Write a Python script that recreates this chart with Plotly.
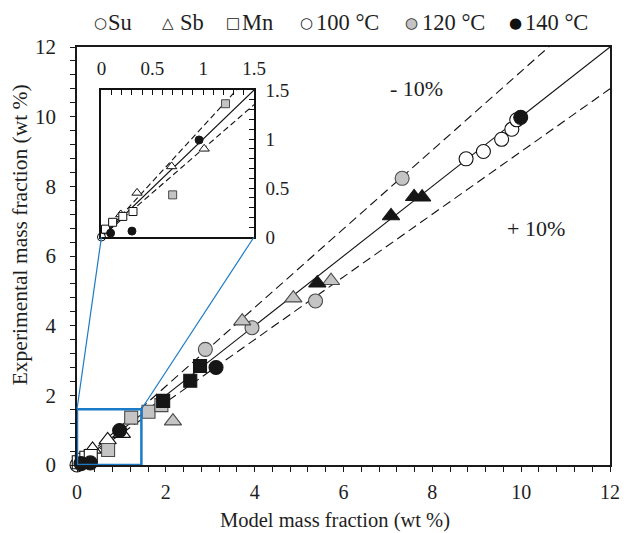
import plotly.graph_objects as go

# ---------------- data (model x, experimental y), wt % ----------------
su_100_x = [0.00, 8.76, 9.15, 9.56, 9.79, 9.90]
su_100_y = [0.00, 8.79, 9.00, 9.35, 9.64, 9.91]
su_120_x = [2.89, 3.94, 5.37, 7.32]
su_120_y = [3.32, 3.94, 4.71, 8.23]
su_140_x = [0.09, 0.30, 0.96, 3.13, 9.99]
su_140_y = [0.04, 0.06, 0.99, 2.80, 9.98]

sb_100_x = [0.19, 0.35, 0.69, 1.01]
sb_100_y = [0.23, 0.45, 0.72, 0.90]
sb_120_x = [2.16, 3.72, 4.87, 5.72]
sb_120_y = [1.26, 4.13, 4.79, 5.29]
sb_140_x = [5.41, 7.07, 7.59, 7.77]
sb_140_y = [5.22, 7.15, 7.70, 7.69]

mn_100_x = [0.04, 0.11, 0.21, 0.31]
mn_100_y = [0.08, 0.15, 0.21, 0.26]
mn_120_x = [0.70, 1.22, 1.61, 1.90]
mn_120_y = [0.43, 1.36, 1.53, 1.72]
mn_140_x = [1.94, 2.55, 2.77]
mn_140_y = [1.84, 2.42, 2.84]

parity_ratio = 1.0
upper_ratio = 1.13   # "- 10%" line
lower_ratio = 0.90   # "+ 10%" line

main_range = [0, 12]
inset_range = [0, 1.5]
main_ticks = [0, 2, 4, 6, 8, 10, 12]
inset_ticks = [0, 0.5, 1, 1.5]
zoom_box = [1.45, 1.6]   # blue box in main chart (x1, y1)

legend_elements = ["Su", "Sb", "Mn"]
legend_temps = ["100 °C", "120 °C", "140 °C"]

# ---------------- layout geometry ----------------
W, H = 634, 533
ML, MR, MT, MB = 77, 12, 47, 68
PW, PH = W - ML - MR, H - MT - MB

def px(xp):
    return (xp - ML) / PW

def py(yp):
    return (H - MB - yp) / PH

inset_dx = [px(102), px(258)]
inset_dy = [py(237), py(90)]

FONT = "Liberation Serif"
TXT = "#1e1e1e"
WHITE, GRAY, BLACK = "#ffffff", "#c4c4c4", "#161616"
EDGE = {WHITE: "#111111", GRAY: "#4a4a4a", BLACK: "#161616"}

series = [
    ("circle", WHITE, su_100_x, su_100_y),
    ("triangle-up", WHITE, sb_100_x, sb_100_y),
    ("square", WHITE, mn_100_x, mn_100_y),
    ("circle", GRAY, su_120_x, su_120_y),
    ("triangle-up", GRAY, sb_120_x, sb_120_y),
    ("square", GRAY, mn_120_x, mn_120_y),
    ("circle", BLACK, su_140_x, su_140_y),
    ("triangle-up", BLACK, sb_140_x, sb_140_y),
    ("square", BLACK, mn_140_x, mn_140_y),
]
main_size = {"circle": 14, "triangle-up": 15, "square": 13}
inset_size = {"circle": 8, "triangle-up": 9, "square": 8}

fig = go.Figure()

# guide lines
for rng, xa, ya, dash_main in [(main_range, "x", "y", "9px,5px"), (inset_range, "x2", "y2", "6px,3.5px")]:
    gx = [rng[0], rng[1]]
    for r, dash in [(parity_ratio, "solid"), (upper_ratio, dash_main), (lower_ratio, dash_main)]:
        fig.add_trace(go.Scatter(
            x=gx, y=[v * r for v in gx], mode="lines", xaxis=xa, yaxis=ya,
            line=dict(color="#111111", width=1.1, dash=dash),
            showlegend=False, hoverinfo="skip"))

# markers
for sym, fill, xs, ys in series:
    fig.add_trace(go.Scatter(
        x=xs, y=ys, mode="markers", xaxis="x", yaxis="y", cliponaxis=False,
        marker=dict(symbol=sym, size=main_size[sym], color=fill,
                    line=dict(color=EDGE[fill], width=1.1)),
        showlegend=False))
for sym, fill, xs, ys in series:
    xi = [a for a, b in zip(xs, ys) if a <= inset_range[1] and b <= inset_range[1]]
    yi = [b for a, b in zip(xs, ys) if a <= inset_range[1] and b <= inset_range[1]]
    fig.add_trace(go.Scatter(
        x=xi, y=yi, mode="markers", xaxis="x2", yaxis="y2", cliponaxis=False,
        marker=dict(symbol=sym, size=inset_size[sym], color=fill,
                    line=dict(color=EDGE[fill], width=1)),
        showlegend=False))

axis_common = dict(showgrid=False, zeroline=False, showline=True, linecolor="#1a1a1a",
                   linewidth=1.5, mirror=True,
                   ticks="outside", ticklen=5, tickcolor="#1a1a1a", tickwidth=1.2)

fig.update_layout(
    width=W, height=H, margin=dict(l=ML, r=MR, t=MT, b=MB),
    paper_bgcolor="white", plot_bgcolor="white",
    xaxis=dict(range=main_range, tickvals=main_ticks, ticklabelstandoff=3,
               tickfont=dict(family=FONT, size=20, color=TXT),
               minor=dict(dtick=0.4, ticks="outside", ticklen=5, tickcolor="#1a1a1a", tickwidth=1.2),
               **axis_common),
    yaxis=dict(range=main_range, tickvals=main_ticks, ticklabelstandoff=10,
               tickfont=dict(family=FONT, size=21, color=TXT),
               minor=dict(dtick=0.4, ticks="outside", ticklen=5, tickcolor="#1a1a1a", tickwidth=1.2),
               **axis_common),
    xaxis2=dict(domain=inset_dx, anchor="y2", side="top", range=inset_range, tickvals=inset_ticks,
                showgrid=False, zeroline=False, showline=True, linecolor="#111", linewidth=1.5, mirror=True,
                ticks="inside", ticklen=5, tickcolor="#111", ticklabelstandoff=6,
                minor=dict(dtick=0.1, ticks="inside", ticklen=5, tickcolor="#111"),
                tickfont=dict(family=FONT, size=19, color=TXT)),
    yaxis2=dict(domain=inset_dy, anchor="x2", side="right", range=inset_range, tickvals=inset_ticks,
                showgrid=False, zeroline=False, showline=True, linecolor="#111", linewidth=1.5, mirror=True,
                ticks="inside", ticklen=5, tickcolor="#111", ticklabelstandoff=6,
                minor=dict(dtick=0.1, ticks="inside", ticklen=5, tickcolor="#111"),
                tickfont=dict(family=FONT, size=19, color=TXT)),
    showlegend=False,
)

BLUE = "#1b7bc6"
fig.add_shape(type="rect", xref="x", yref="y", x0=0, y0=0, x1=zoom_box[0], y1=zoom_box[1],
              line=dict(color=BLUE, width=2.5), fillcolor="rgba(0,0,0,0)")
fig.add_shape(type="line", xref="paper", yref="paper",
              x0=0, y0=zoom_box[1] / main_range[1], x1=inset_dx[0], y1=inset_dy[0],
              line=dict(color=BLUE, width=1.2))
fig.add_shape(type="line", xref="paper", yref="paper",
              x0=zoom_box[0] / main_range[1], y0=zoom_box[1] / main_range[1], x1=inset_dx[1], y1=inset_dy[0],
              line=dict(color=BLUE, width=1.2))

ann = []
def text(xp, yp, s, size=21, anchor="center", angle=0):
    ann.append(dict(x=px(xp), y=py(yp), xref="paper", yref="paper", text=s, showarrow=False,
                    xanchor=anchor, yanchor="middle", textangle=angle,
                    font=dict(family=FONT, size=size, color=TXT)))

text(341, 520, "Model mass fraction (wt %)", size=20.5)
text(19, 235, "Experimental mass fraction (wt %)", size=21.5, angle=-90)
text(424, 88, "- 10%", size=22)
text(546, 228, "+ 10%", size=22)

# legend row
leg_y = 22
sym_font = "DejaVu Sans"
def sym(xp, ch, color, size=15):
    ann.append(dict(x=px(xp), y=py(leg_y + 1), xref="paper", yref="paper", text=ch, showarrow=False,
                    xanchor="center", yanchor="middle",
                    font=dict(family=sym_font, size=size, color=color)))

sym(101, "○", "#222")
text(107, leg_y, legend_elements[0], size=22.5, anchor="left")
sym(170, "△", "#222")
text(180, leg_y, legend_elements[1], size=22.5, anchor="left")
sym(237, "□", "#222")
text(244, leg_y, legend_elements[2], size=22.5, anchor="left")
sym(312, "○", "#222")
text(319, leg_y, legend_temps[0], size=22.5, anchor="left")
sym(419, "●", GRAY)
sym(419, "○", "#333")
text(428, leg_y, legend_temps[1], size=22.5, anchor="left")
sym(525, "●", "#111")
text(533, leg_y, legend_temps[2], size=22.5, anchor="left")

fig.update_layout(annotations=ann)
fig.write_html("out.html")
